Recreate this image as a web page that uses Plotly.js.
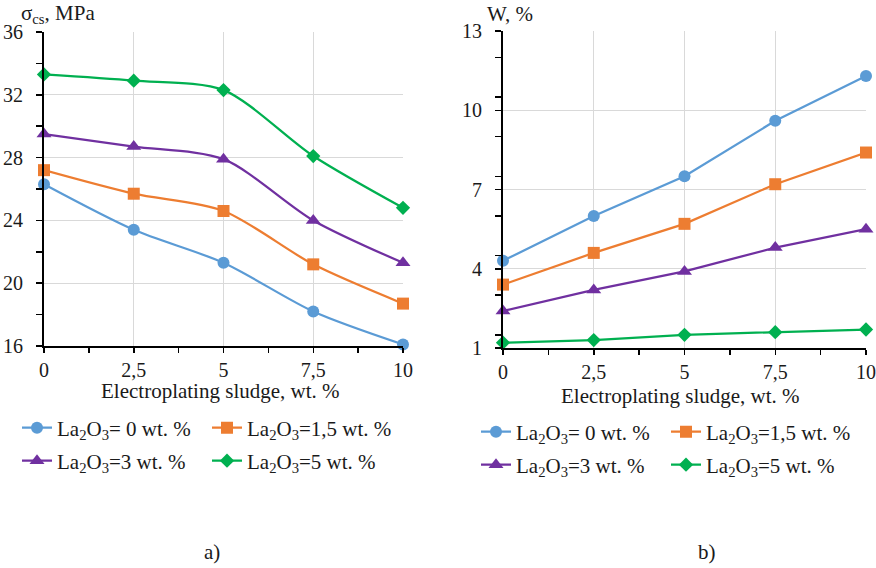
<!DOCTYPE html>
<html>
<head>
<meta charset="utf-8">
<script src="https://cdn.plot.ly/plotly-3.0.1.min.js"></script>
<style>html,body{margin:0;padding:0;background:#fff;}#chart{width:876px;height:568px;}</style>
</head>
<body>
<div id="chart"></div>
<script>
// ---- data ----
var sludge = [0, 2.5, 5, 7.5, 10];
var xTickVals = [0, 2.5, 5, 7.5, 10];
var xTickText = ['0', '2,5', '5', '7,5', '10'];
var seriesNames = [
  'La<sub>2</sub>O<sub>3</sub>= 0 wt. %',
  'La<sub>2</sub>O<sub>3</sub>=1,5 wt. %',
  'La<sub>2</sub>O<sub>3</sub>=3 wt. %',
  'La<sub>2</sub>O<sub>3</sub>=5 wt. %'
];
// (a) compressive strength, MPa
var strength_La0   = [26.3, 23.4, 21.3, 18.2, 16.1];
var strength_La1_5 = [27.2, 25.7, 24.6, 21.2, 18.7];
var strength_La3   = [29.5, 28.7, 27.9, 24.0, 21.3];
var strength_La5   = [33.3, 32.9, 32.3, 28.1, 24.8];
// (b) water absorption, %
var water_La0   = [4.3, 6.0, 7.5, 9.6, 11.3];
var water_La1_5 = [3.4, 4.6, 5.7, 7.2, 8.4];
var water_La3   = [2.4, 3.2, 3.9, 4.8, 5.5];
var water_La5   = [1.2, 1.3, 1.5, 1.6, 1.7];

var colors = ['#5B9BD5', '#ED7D31', '#7030A0', '#00B050'];
var symbols = ['circle', 'square', 'triangle-up', 'diamond'];
var msizes = [12, 12, 13, 11];

var W = 876, H = 568;
function px(x) { return x / W; }
function py(y) { return 1 - y / H; }

var leftSets = [strength_La0, strength_La1_5, strength_La3, strength_La5];
var rightSets = [water_La0, water_La1_5, water_La3, water_La5];
var traces = [];
leftSets.forEach(function (ys, i) {
  traces.push({
    x: sludge, y: ys, xaxis: 'x', yaxis: 'y', type: 'scatter', mode: 'lines+markers',
    name: seriesNames[i], cliponaxis: false,
    legend: i < 2 ? 'legend' : 'legend2',
    line: {color: colors[i], width: 2.25, shape: 'spline', smoothing: 0.8},
    marker: {color: colors[i], symbol: symbols[i], size: msizes[i]}
  });
});
rightSets.forEach(function (ys, i) {
  traces.push({
    x: sludge, y: ys, xaxis: 'x2', yaxis: 'y2', type: 'scatter', mode: 'lines+markers',
    name: seriesNames[i], cliponaxis: false,
    legend: i < 2 ? 'legend3' : 'legend4',
    line: {color: colors[i], width: 2.25},
    marker: {color: colors[i], symbol: symbols[i], size: msizes[i]}
  });
});

var FONT = 'Liberation Serif';
var TXT = '#1a1a1a';
var tickFont = {family: FONT, size: 20, color: TXT};
var labelFont = {family: FONT, size: 21, color: TXT};

function xAxis(domain, anchor) {
  return {
    domain: domain, anchor: anchor, range: [0, 10],
    tickvals: xTickVals, ticktext: xTickText,
    ticks: 'outside', ticklen: 5, tickwidth: 1.5, tickcolor: '#000',
    showline: true, linecolor: '#000', linewidth: 2,
    showgrid: true, gridcolor: '#d9d9d9', gridwidth: 1,
    zeroline: false, tickfont: tickFont, ticklabelstandoff: 0,
    minor: {dtick: 1.25, tick0: 0, ticks: 'outside', ticklen: 5, tickwidth: 1.5, tickcolor: '#000', showgrid: false},
    fixedrange: true
  };
}
function yAxis(domain, anchor, range, dtick) {
  return {
    domain: domain, anchor: anchor, range: range, dtick: dtick, tick0: range[0],
    ticks: 'outside', ticklen: 6, tickwidth: 1.5, tickcolor: '#000',
    showline: true, linecolor: '#000', linewidth: 2,
    showgrid: true, gridcolor: '#d9d9d9', gridwidth: 1,
    zeroline: false, tickfont: tickFont, ticklabelstandoff: 9,
    minor: {dtick: dtick / 2, ticks: 'outside', ticklen: 6, tickwidth: 1.5, tickcolor: '#000', showgrid: false},
    fixedrange: true
  };
}

function legendAt(x, y) {
  return {
    orientation: 'h', x: px(x), y: py(y), xanchor: 'left', yanchor: 'middle',
    xref: 'paper', yref: 'paper',
    font: labelFont,
    entrywidth: 145, entrywidthmode: 'pixels', itemwidth: 30,
    bgcolor: 'rgba(0,0,0,0)', borderwidth: 0, tracegroupgap: 0
  };
}
function note(text, x, y, anchor) {
  return {text: text, xref: 'paper', yref: 'paper', x: px(x), y: py(y), xanchor: anchor, yanchor: 'middle', showarrow: false, font: labelFont};
}

var layout = {
  width: W, height: H,
  margin: {l: 0, r: 0, t: 0, b: 0, autoexpand: false},
  paper_bgcolor: '#fff', plot_bgcolor: '#fff',
  font: labelFont,
  xaxis: xAxis([px(44), px(403)], 'y'),
  yaxis: yAxis([py(346), py(32)], 'x', [16, 36], 4),
  xaxis2: xAxis([px(503), px(866)], 'y2'),
  yaxis2: yAxis([py(348), py(31)], 'x2', [1, 13], 3),
  showlegend: true,
  legend: legendAt(17, 428),
  legend2: legendAt(17, 461),
  legend3: legendAt(476, 432),
  legend4: legendAt(476, 465),
  annotations: [
    note('σ<sub>cs</sub>, MPa', 19, 14, 'left'),
    note('W, %', 485, 14, 'left'),
    note('Electroplating sludge, wt. %', 220, 391, 'center'),
    note('Electroplating sludge, wt. %', 680, 396, 'center'),
    note('a)', 212, 552, 'center'),
    note('b)', 707, 552, 'center')
  ]
};

Plotly.newPlot('chart', traces, layout, {staticPlot: true, displayModeBar: false});
</script>
</body>
</html>
